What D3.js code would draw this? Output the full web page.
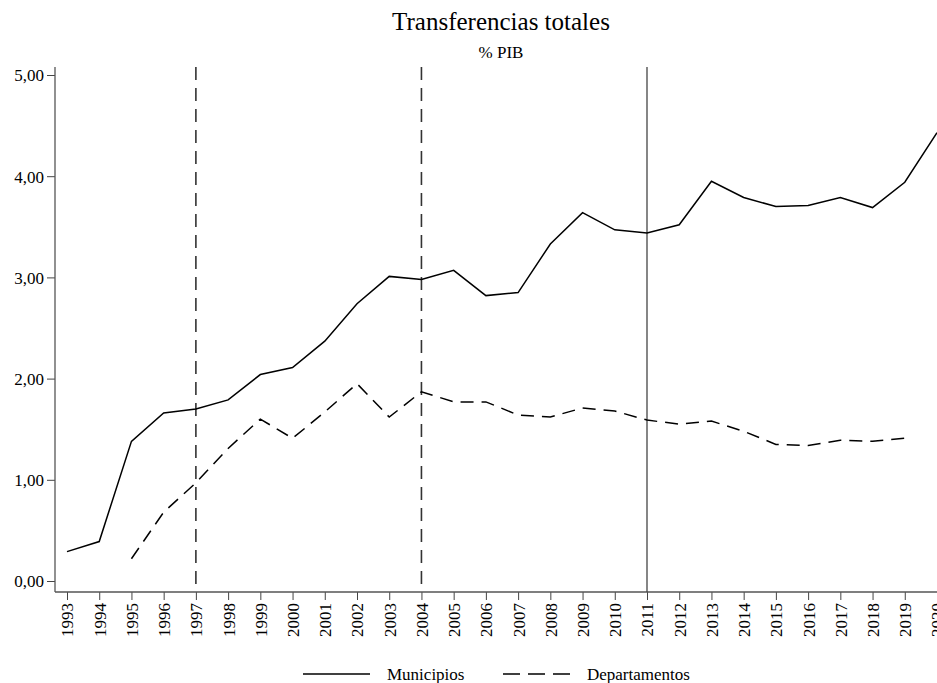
<!DOCTYPE html>
<html>
<head>
<meta charset="utf-8">
<script src="https://cdn.jsdelivr.net/npm/d3@7"></script>
<style>
  body { margin: 0; background: #fff; }
  svg { display: block; }
  svg text { font-family: "Liberation Serif", "Times New Roman", serif !important; }
</style>
</head>
<body>
<div class="board"></div>
<script>
// data
let years = d3.range(1993, 2021);
let municipios = [0.29, 0.39, 1.38, 1.66, 1.70, 1.79, 2.04, 2.11, 2.37, 2.74, 3.01,
                  2.98, 3.07, 2.82, 2.85, 3.33, 3.64, 3.47, 3.44, 3.52, 3.95,
                  3.79, 3.70, 3.71, 3.79, 3.69, 3.94, 4.43];
let departamentos = [null, null, 0.22, 0.68, 0.97, 1.31, 1.60, 1.41, 1.67, 1.95, 1.62,
                     1.87, 1.77, 1.77, 1.64, 1.62, 1.71, 1.68, 1.59, 1.55, 1.58,
                     1.48, 1.35, 1.34, 1.39, 1.38, 1.41, null];
let yTicks = [0, 1, 2, 3, 4, 5];
let dashedYears = [1997, 2004];
let solidYears = [2011];

let width = 937, height = 683;
let plot = { left: 55, right: 937, top: 67, bottom: 592 };

let svg = d3.select('.board').append('svg')
    .attr('width', width)
    .attr('height', height);

let x = d3.scaleLinear().domain([1993, 2020]).range([67, 937]);
let y = d3.scaleLinear().domain([0, 5]).range([581, 75]);

/////// TITLES ///////////////////////////////////////
svg.append('text')
    .attr('x', 501).attr('y', 30)
    .attr('text-anchor', 'middle')
    .style('font-size', '25px')
    .text('Transferencias totales');
svg.append('text')
    .attr('x', 501).attr('y', 58)
    .attr('text-anchor', 'middle')
    .style('font-size', '17px')
    .text('% PIB');

/////// AXES ///////////////////////////////////////
let fmt = d => d3.format('.2f')(d).replace('.', ',');

let yAxis = svg.append('g')
    .attr('transform', `translate(${plot.left},0)`)
    .call(d3.axisLeft(y).tickValues(yTicks).tickFormat(fmt).tickSize(8).tickSizeOuter(0));
yAxis.select('.domain').remove();
yAxis.selectAll('text').style('font-size', '17px').attr('x', -11).attr('dy', '0.35em');

let xAxis = svg.append('g')
    .attr('transform', `translate(0,${plot.bottom})`)
    .call(d3.axisBottom(x).tickValues(years).tickFormat(d3.format('d')).tickSize(8).tickSizeOuter(0));
xAxis.select('.domain').remove();
xAxis.selectAll('text')
    .style('font-size', '17px')
    .attr('transform', 'rotate(-90)')
    .attr('text-anchor', 'end')
    .attr('x', -11).attr('y', 0).attr('dy', '0.35em');

svg.selectAll('.tick line').attr('stroke', '#444');

svg.append('line')
    .attr('x1', plot.left).attr('x2', plot.left)
    .attr('y1', plot.top).attr('y2', plot.bottom)
    .attr('stroke', '#555').attr('stroke-width', 1.3);
svg.append('line')
    .attr('x1', plot.left).attr('x2', plot.right)
    .attr('y1', plot.bottom).attr('y2', plot.bottom)
    .attr('stroke', '#555').attr('stroke-width', 1.3);

/////// REFERENCE LINES ///////////////////////////////////////
svg.selectAll('.vdash').data(dashedYears).enter().append('line')
    .attr('x1', d => x(d)).attr('x2', d => x(d))
    .attr('y1', plot.top).attr('y2', plot.bottom)
    .attr('stroke', '#333').attr('stroke-width', 1.6)
    .attr('stroke-dasharray', '13,8');
svg.selectAll('.vsolid').data(solidYears).enter().append('line')
    .attr('x1', d => x(d)).attr('x2', d => x(d))
    .attr('y1', plot.top).attr('y2', plot.bottom)
    .attr('stroke', '#444').attr('stroke-width', 1.3);

/////// SERIES ///////////////////////////////////////
let line = d3.line()
    .defined(d => d[1] != null)
    .x(d => x(d[0]))
    .y(d => y(d[1]));

svg.append('path')
    .datum(years.map((yr, i) => [yr, municipios[i]]))
    .attr('d', line)
    .attr('fill', 'none').attr('stroke', '#000').attr('stroke-width', 1.5);

svg.append('path')
    .datum(years.map((yr, i) => [yr, departamentos[i]]))
    .attr('d', line)
    .attr('fill', 'none').attr('stroke', '#000').attr('stroke-width', 1.5)
    .attr('stroke-dasharray', '13,8');

/////// LEGEND ///////////////////////////////////////
let legend = [
  { label: 'Municipios', dash: null, x: 303 },
  { label: 'Departamentos', dash: '17,8', x: 503 }
];
let lg = svg.selectAll('.legend').data(legend).enter().append('g')
    .attr('transform', d => `translate(${d.x},674)`);
lg.append('line')
    .attr('x1', 0).attr('x2', 67)
    .attr('stroke', '#000').attr('stroke-width', 1.5)
    .attr('stroke-dasharray', d => d.dash);
lg.append('text')
    .attr('x', 84).attr('y', 6)
    .style('font-size', '17px')
    .text(d => d.label);
</script>
</body>
</html>
